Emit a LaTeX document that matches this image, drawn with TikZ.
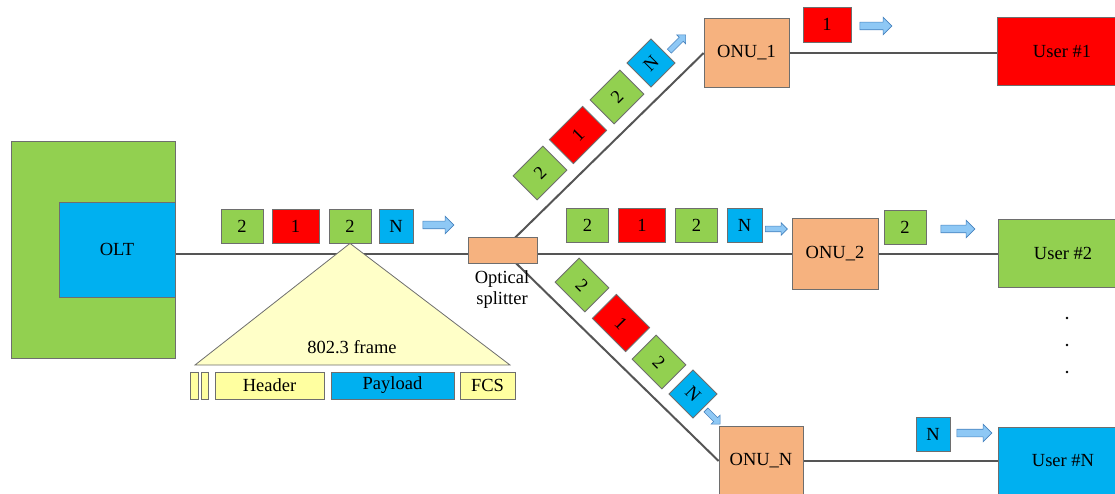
\documentclass[tikz,border=0pt]{standalone}
\usepackage{fontspec}
\setmainfont{Liberation Serif}
\usetikzlibrary{shapes.arrows,backgrounds}
\definecolor{ponGreen}{RGB}{146,208,80}
\definecolor{ponRed}{RGB}{255,0,0}
\definecolor{ponBlue}{RGB}{0,176,240}
\definecolor{ponOrange}{RGB}{246,178,127}
\definecolor{triYellow}{RGB}{255,255,200}
\definecolor{fieldYellow}{RGB}{255,255,160}
\definecolor{edgeGray}{RGB}{110,110,110}
\definecolor{linkGray}{RGB}{85,85,85}
\definecolor{arrowFill}{RGB}{142,200,245}
\definecolor{arrowEdge}{RGB}{70,130,190}
\begin{document}
\begin{tikzpicture}[x=1pt, y=-1pt,
    every node/.style={font=\fontsize{18.5}{21}\selectfont},
    box/.style={draw=edgeGray, line width=0.8pt, inner sep=0pt},
    pkt/.style={box, minimum height=34pt},
    pk2/.style={pkt, fill=ponGreen, minimum width=42pt},
    pk1/.style={pkt, fill=ponRed, minimum width=47pt},
    pkN/.style={pkt, fill=ponBlue, minimum width=34pt},
    onu/.style={box, fill=ponOrange, minimum width=85pt, minimum height=69pt},
    user/.style={box, minimum width=130pt, minimum height=68pt},
    field/.style={box, fill=fieldYellow, minimum height=27pt},
    tri/.style={draw=edgeGray, line width=0.8pt, fill=triYellow},
    flow/.style={single arrow, draw=arrowEdge, fill=arrowFill, line width=0.6pt,
      inner sep=3.5pt, single arrow head extend=5pt, minimum height=#1},
    flow/.default=31pt,
    smallflow/.style={inner sep=2.5pt, single arrow head extend=3.5pt},
    link/.style={draw=linkGray, line width=2pt}]
  \useasboundingbox (0,0) rectangle (1115,494);

  % OLT side
  \node[box, fill=ponGreen, minimum width=164pt, minimum height=217pt] (oltrack) at (93,249.5) {};
  \node[box, fill=ponBlue, minimum width=116pt, minimum height=95pt] (olt) at (117,249.5) {OLT};

  % packets on the feeder fibre
  \node[pk2] (m1) at (242,226) {2};
  \node[pk1] (m2) at (295.5,226) {1};
  \node[pk2] (m3) at (350,226) {2};
  \node[pkN] (m4) at (396,226) {N};
  \node[flow=31pt] (fm) at (436.5,225) {};

  % 802.3 frame
  \draw[tri] (m3.south) -- (195,365) -- (510,365) -- cycle;
  \node (frmlabel) at (352,347) {802.3 frame};
  \node[field, minimum width=8pt] (f0) at (194,385.5) {};
  \node[field, minimum width=7pt] (f1) at (204.5,385.5) {};
  \node[field, minimum width=109pt] (hdr) at (269.5,385.5) {Header};
  \node[field, fill=ponBlue, minimum width=123pt] (pay) at (392.5,385.5) {Payload};
  \node[field, minimum width=55pt] (fcs) at (487.5,385.5) {FCS};

  % splitter
  \node[box, fill=ponOrange, minimum width=69pt, minimum height=26pt] (split) at (502.5,250) {};
  \node[align=center] (splitlabel) at (502,290) {Optical\\splitter};

  % ONUs and users
  \node[onu] (onu1) at (746.5,53) {ONU\_1};
  \node[onu, minimum width=86pt, minimum height=71pt] (onu2) at (835,253.5) {ONU\_2};
  \node[onu, minimum width=84pt, minimum height=70pt] (onuN) at (761,461) {ONU\_N};
  \node[user, fill=ponRed] (user1) at (1062,51) {User \#1};
  \node[user, fill=ponGreen] (user2) at (1063,253.5) {User \#2};
  \node[user, fill=ponBlue] (userN) at (1063,461) {User \#N};

  % upper branch
  \node[pk2, rotate=45] (u1) at (540,173) {2};
  \node[pk1, rotate=45] (u2) at (578,135) {1};
  \node[pk2, rotate=45] (u3) at (617,97) {2};
  \node[pkN, rotate=45] (u4) at (651,63) {N};
  \node[flow=23pt, smallflow, rotate=45] (fu) at (676.5,44) {};

  % middle branch
  \node[pk2] (c1) at (587.5,225.5) {2};
  \node[pk1] (c2) at (642,225.5) {1};
  \node[pk2] (c3) at (696.5,225.5) {2};
  \node[pkN, minimum width=35pt] (c4) at (744.5,225.5) {N};
  \node[flow=22pt, smallflow] (fc) at (775,229) {};

  % lower branch
  \node[pk2, rotate=-45] (l1) at (582,285) {2};
  \node[pk1, rotate=-45] (l2) at (621,323) {1};
  \node[pk2, rotate=-45] (l3) at (659,362) {2};
  \node[pkN, rotate=-45] (l4) at (693,394) {N};
  \node[flow=20pt, smallflow, rotate=-45] (fl) at (712,416) {};

  % delivered packets
  \node[pk1, minimum width=48pt, minimum height=35pt] (d1) at (827,24.5) {1};
  \node[flow=32pt] (fd1) at (874,26) {};
  \node[pk2] (d2) at (905,227) {2};
  \node[flow=34pt] (fd2) at (956,229) {};
  \node[pkN] (dN) at (933,434) {N};
  \node[flow=35pt] (fdN) at (972.5,433) {};

  \foreach \y in {318,345,372} \fill (1067,\y) circle (1.3pt);

  \begin{scope}[on background layer]
    \draw[link] (olt.east |- onu2.west) -- (onu2.west);
    \draw[link] (split.center) -- (onu1.west);
    \draw[link] (split.center) -- (onuN.west);
    \draw[link] (onu1.east) -- (onu1.east -| user1.west);
    \draw[link] (onu2.east) -- (user2.west);
    \draw[link] (onuN.east) -- (userN.west);
  \end{scope}
\end{tikzpicture}
\end{document}
